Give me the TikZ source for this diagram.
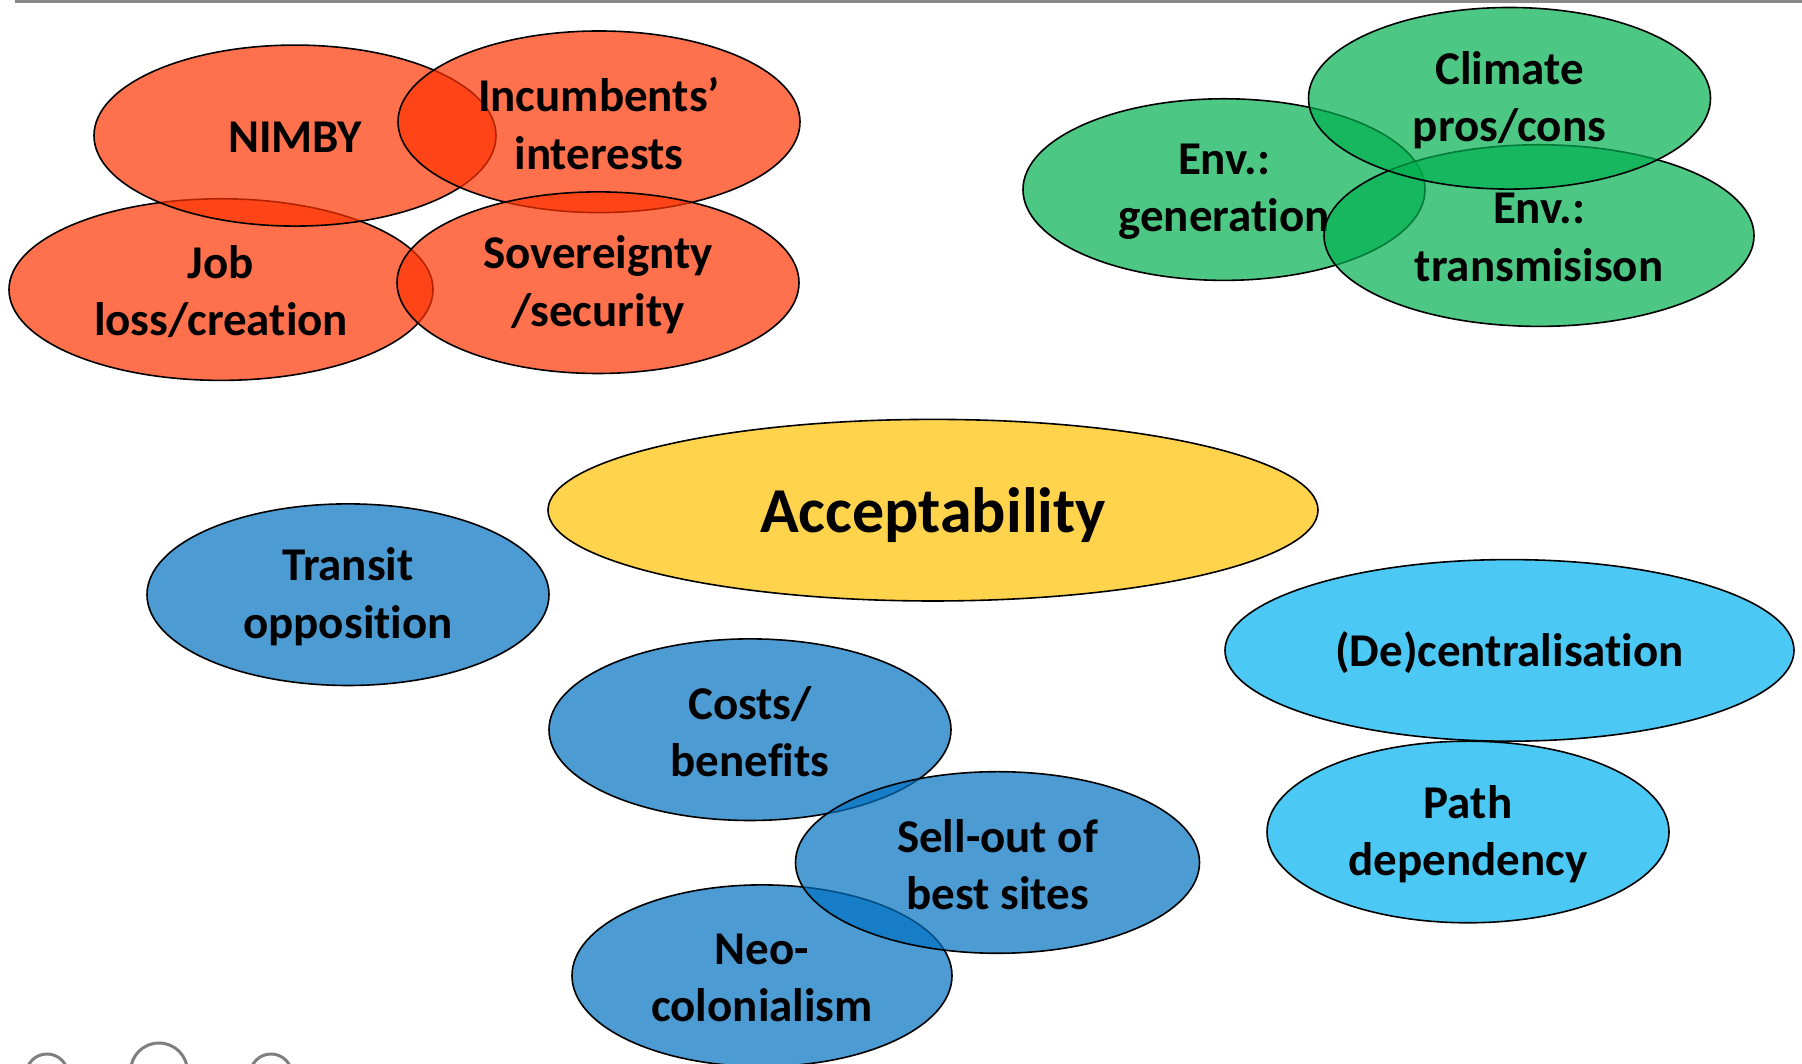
\documentclass[tikz,border=0pt]{standalone}
\usepackage{fontspec}
\setmainfont{Carlito}[Ligatures=NoCommon]
\usetikzlibrary{shapes.geometric}
\begin{document}
\begin{tikzpicture}[x=1pt,y=1pt,
  blob/.style={ellipse, draw=black, line width=1.6pt, fill opacity=0.7,
    inner sep=0pt, minimum height=181.6pt},
  txt/.style={inner sep=0pt, align=center, font=\fontsize{47}{57.5}\selectfont\bfseries, text=black, yshift=-2pt},
  redb/.style={blob, fill=red1},
  greenb/.style={blob, fill=green1},
  blueb/.style={blob, fill=blue1},
  cyanb/.style={blob, fill=cyan1},
  yellowb/.style={blob, fill=yellow1},
  navc/.style={draw=gray2, line width=3pt}]
\definecolor{red1}{HTML}{FF3300}
\definecolor{green1}{HTML}{00B050}
\definecolor{blue1}{HTML}{0070C0}
\definecolor{cyan1}{HTML}{00B0F0}
\definecolor{yellow1}{HTML}{FFC000}
\definecolor{gray2}{HTML}{7F7F7F}
\definecolor{gray3}{HTML}{888888}
\useasboundingbox (0,0) rectangle (1802,1064);
\begin{scope}
\clip (0,0) rectangle (1802,1064);
\fill[gray3] (15,1061) rectangle (1802,1064);
% red group
\node[redb, minimum width=424pt] (job) at (221,774.4) {};
\node[txt] (jobT) at (job.center) {Job\\loss/creation};
\node[redb, minimum width=402pt, minimum height=181pt] (nimby) at (295,928.4) {};
\node[txt] (nimbyT) at (nimby.center) {NIMBY};
\node[redb, minimum width=402pt] (inc) at (599,942.2) {};
\node[txt] (incT) at (inc.center) {Incumbents’\\interests};
\node[redb, minimum width=402pt] (sov) at (598,781.3) {};
\node[txt] (sovT) at (sov.center) {Sovereignty\\/security};
% green group
\node[greenb, minimum width=402pt] (gen) at (1224,874.4) {};
\node[txt] (genT) at (gen.center) {Env.:\\generation};
\node[greenb, minimum width=430pt] (trans) at (1539,828.4) {};
\node[txt] (transT) at (trans.center) {Env.:\\transmisison};
\node[greenb, minimum width=402pt] (clim) at (1509.5,965.7) {};
\node[txt] (climT) at (clim.center) {Climate\\pros/cons};
% centre
\node[yellowb, minimum width=770pt] (acc) at (933,553.8) {};
\node[txt, yshift=-3pt, font=\fontsize{64}{77}\selectfont\bfseries] (accT) at (acc.center) {Acceptability};
% blue group
\node[blueb, minimum width=402pt] (transit) at (348,469.3) {};
\node[txt] (transitT) at (transit.center) {Transit\\opposition};
\node[blueb, minimum width=402pt] (costs) at (750,334.3) {};
\node[txt] (costsT) at (costs.center) {Costs/\\benefits};
\node[blueb, minimum width=380pt] (neo) at (762,88.3) {};
\node[txt] (neoT) at (neo.center) {Neo-\\colonialism};
\node[blueb, minimum width=404pt] (sell) at (997.5,201.5) {};
\node[txt] (sellT) at (sell.center) {Sell-out of\\best sites};
% cyan group
\node[cyanb, minimum width=569pt] (dec) at (1509.5,413.6) {};
\node[txt] (decT) at (dec.center) {(De)centralisation};
\node[cyanb, minimum width=402pt] (path) at (1468,232) {};
\node[txt] (pathT) at (path.center) {Path\\dependency};
% navigation circles
\draw[navc] (47,-11) circle (21);
\draw[navc] (159,-7.5) circle (28.5);
\draw[navc] (271,-11) circle (21);
\end{scope}
\end{tikzpicture}
\end{document}
